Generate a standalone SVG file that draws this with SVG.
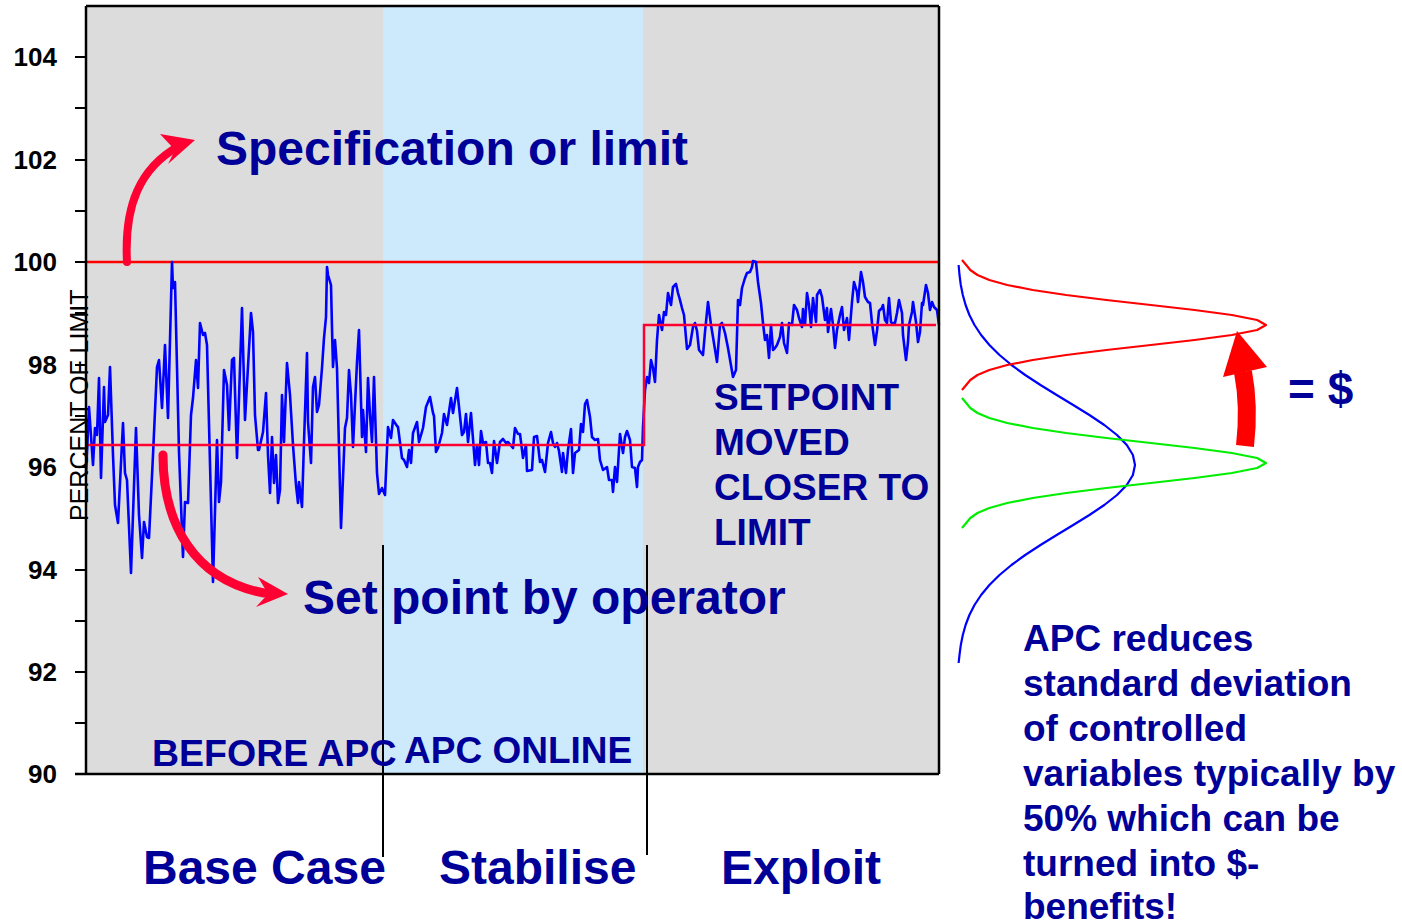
<svg xmlns="http://www.w3.org/2000/svg" width="1402" height="923" viewBox="0 0 1402 923">
<style>
.t{font-family:"Liberation Sans",Arial,sans-serif;font-weight:bold;fill:#000099}
.ax{font-family:"Liberation Sans",Arial,sans-serif;font-weight:bold;font-size:26px;fill:#000;text-anchor:end}
.frame{stroke:#000;stroke-width:2.5;fill:none}
.tick{stroke:#000;stroke-width:2}
.div{stroke:#000;stroke-width:2}
.dist{fill:none;stroke-width:2.2;stroke-linejoin:round}
.arr{fill:none;stroke:#ff0033;stroke-linecap:round}
</style>
<rect width="1402" height="923" fill="#fff"/>
<g id="plot-bg">
<rect x="86" y="6" width="297" height="768" fill="#dcdcdc"/>
<rect x="383" y="6" width="260" height="768" fill="#cdeafc"/>
<rect x="643" y="6" width="296" height="768" fill="#dcdcdc"/>
</g>
<g id="axis">
<line class="tick" x1="75" y1="57" x2="86" y2="57"/>
<line class="tick" x1="75" y1="108" x2="86" y2="108"/>
<line class="tick" x1="75" y1="160" x2="86" y2="160"/>
<line class="tick" x1="75" y1="211" x2="86" y2="211"/>
<line class="tick" x1="75" y1="262" x2="86" y2="262"/>
<line class="tick" x1="75" y1="313" x2="86" y2="313"/>
<line class="tick" x1="75" y1="365" x2="86" y2="365"/>
<line class="tick" x1="75" y1="416" x2="86" y2="416"/>
<line class="tick" x1="75" y1="467" x2="86" y2="467"/>
<line class="tick" x1="75" y1="518" x2="86" y2="518"/>
<line class="tick" x1="75" y1="570" x2="86" y2="570"/>
<line class="tick" x1="75" y1="621" x2="86" y2="621"/>
<line class="tick" x1="75" y1="672" x2="86" y2="672"/>
<line class="tick" x1="75" y1="723" x2="86" y2="723"/>
<line class="tick" x1="75" y1="774" x2="86" y2="774"/>
<text class="ax" x="57" y="66">104</text>
<text class="ax" x="57" y="169">102</text>
<text class="ax" x="57" y="271">100</text>
<text class="ax" x="57" y="374">98</text>
<text class="ax" x="57" y="476">96</text>
<text class="ax" x="57" y="579">94</text>
<text class="ax" x="57" y="681">92</text>
<text class="ax" x="57" y="783">90</text>
</g>
<g id="limit-lines">
<line x1="86" y1="262" x2="939" y2="262" stroke="#ff0000" stroke-width="2.5"/>
</g>
<g id="trace">
<polyline fill="none" stroke="#0000ff" stroke-width="2.6" stroke-linejoin="round" points="86,475 89,407 93,465 95,428 97,435 99,378 101,478 104,387 105,422 108,415 110,367 113,455 115,505 118,523 123,423 125,473 127,480 131,573 136,428 139,515 142,558 144,522 147,537 149,538 153,455 157,367 159,360 162,408 165,345 168,418 172,262 173,288 175,282 179,452 183,557 185,502 188,503 191,415 193,398 196,360 198,388 200,323 203,335 205,333 207,345 213,582 217,440 219,502 221,482 224,370 227,385 229,430 232,360 234,358 237,458 242,308 245,420 251,313 253,332 255,415 258,450 259,450 263,432 266,393 268,455 270,493 272,437 274,483 276,455 278,503 280,490 282,395 284,442 287,363 290,395 293,445 296,485 298,503 299,482 302,507 304,442 307,353 308,422 311,463 313,387 315,377 317,412 319,405 322,368 324,338 326,317 327,267 328,275 331,285 332,328 333,367 335,340 337,368 341,528 345,428 347,418 349,370 351,395 353,447 357,362 359,330 362,437 363,410 366,452 368,378 370,415 372,442 374,377 377,473 379,494 382,488 385,495 388,427 391,438 393,420 397,426 398,427 402,458 404,460 407,467 409,450 411,463 413,433 417,422 419,442 423,428 426,407 430,397 433,413 434,416 436,452 438,448 442,433 444,414 447,425 451,398 453,413 457,388 462,435 464,432 466,414 468,442 471,413 475,465 477,445 479,465 481,431 483,443 486,442 488,463 490,463 492,473 494,441 497,463 500,442 503,439 506,443 508,442 513,448 515,428 518,434 520,434 523,458 526,445 527,471 532,470 534,437 537,436 540,462 542,460 545,472 548,443 551,432 553,443 555,447 557,443 559,451 562,472 563,453 566,473 568,450 571,429 573,473 575,453 579,450 581,424 583,432 585,404 587,400 590,417 592,437 595,440 598,439 600,460 603,470 607,467 609,480 612,480 613,492 615,467 617,482 620,434 623,453 625,437 627,431 630,440 632,467 635,468 637,487 638,467 640,462 642,460 643,427 645,390 647,377 649,383 651,360 653,368 655,382 657,340 659,315 662,330 664,312 666,315 668,293 671,305 673,287 676,284 678,293 680,300 682,308 684,315 687,349 690,345 693,327 695,323 697,331 699,350 703,355 705,332 708,302 711,325 713,337 717,362 720,325 722,323 725,333 728,348 733,377 736,370 738,300 740,305 742,288 745,278 747,273 750,272 752,267 753,261 756,262 758,282 761,303 763,323 765,340 767,335 769,358 771,325 773,350 775,348 777,345 780,337 782,323 784,343 787,353 789,323 792,325 794,305 797,310 799,318 802,327 803,309 805,325 807,293 809,305 811,327 813,298 816,322 817,295 820,290 822,297 825,320 827,308 828,332 831,309 833,325 835,348 837,330 840,315 842,307 844,330 847,318 849,340 852,302 854,282 857,292 858,302 861,272 863,282 865,297 868,302 870,303 872,323 875,345 877,331 879,311 882,308 883,305 885,320 887,323 889,298 891,322 892,323 895,323 897,313 899,300 902,313 903,335 906,360 908,342 909,325 912,312 913,302 916,322 918,342 920,332 922,303 923,305 926,285 928,293 930,310 932,302 934,307 937,310 939,325"/>
</g>
<g id="setpoint-line">
<polyline fill="none" stroke="#ff0033" stroke-width="2.5" points="86,445 644,445 644,325 936,325"/>
</g>
<g id="frame">
<line class="frame" x1="86" y1="6" x2="939" y2="6"/>
<line class="frame" x1="86" y1="6" x2="86" y2="774"/>
<line class="frame" x1="939" y1="6" x2="939" y2="774"/>
<line class="frame" x1="75" y1="774" x2="939" y2="774"/>
</g>
<g id="y-label">
<text transform="translate(88,521) rotate(-90)" font-family="Liberation Sans, Arial, sans-serif" font-size="25" fill="#000">PERCENT OF LIMIT</text>
</g>
<g id="dividers">
<line class="div" x1="383" y1="545" x2="383" y2="857"/>
<line class="div" x1="647" y1="545" x2="647" y2="855"/>
</g>
<g id="region-labels">
<text class="t" x="152" y="766" font-size="37.5">BEFORE APC</text>
<text class="t" x="404" y="763" font-size="37">APC ONLINE</text>
<text class="t" x="714" y="410" font-size="37">SETPOINT</text>
<text class="t" x="714" y="455" font-size="37">MOVED</text>
<text class="t" x="714" y="500" font-size="37">CLOSER TO</text>
<text class="t" x="714" y="545" font-size="37">LIMIT</text>
</g>
<g id="phase-labels">
<text class="t" x="143" y="884" font-size="48">Base Case</text>
<text class="t" x="439" y="884" font-size="48">Stabilise</text>
<text class="t" x="721" y="884" font-size="48">Exploit</text>
</g>
<g id="spec-label"><text class="t" x="216" y="165" font-size="48">Specification or limit</text></g>
<g id="setpoint-label"><text class="t" x="303" y="614" font-size="48">Set point by operator</text></g>
<g id="distributions">
<polyline class="dist" stroke="#0000ff" points="958.6,265 959.5,275 960.8,285 962.8,295 965.6,305 969.4,315 974.5,325 981.1,335 989.4,345 999.5,355 1011.5,365 1025.2,375 1040.5,385 1056.7,395 1073.2,405 1089.4,415 1104.3,425 1117,435 1126.8,445 1132.9,455 1135,465 1132.9,475 1126.8,485 1117,495 1104.3,505 1089.4,515 1073.2,525 1056.7,535 1040.5,545 1025.2,555 1011.5,565 999.5,575 989.4,585 981.1,595 974.5,605 969.4,615 965.6,625 962.8,635 960.8,645 959.5,655 958.6,663"/>
<polyline class="dist" stroke="#ff0000" points="962,260 966.2,265 970.3,270 977.5,275 989.3,280 1007.2,285 1032.7,290 1066.2,295 1106.4,300 1150.8,305 1194.6,310 1231.9,315 1257.1,320 1266,325 1257.1,330 1231.9,335 1194.6,340 1150.8,345 1106.4,350 1066.2,355 1032.7,360 1007.2,365 989.3,370 977.5,375 970.3,380 966.2,385 962,390"/>
<polyline class="dist" stroke="#00ee00" points="962,398 966.2,403 970.3,408 977.5,413 989.3,418 1007.2,423 1032.7,428 1066.2,433 1106.4,438 1150.8,443 1194.6,448 1231.9,453 1257.1,458 1266,463 1257.1,468 1231.9,473 1194.6,478 1150.8,483 1106.4,488 1066.2,493 1032.7,498 1007.2,503 989.3,508 977.5,513 970.3,518 966.2,523 962,528"/>
</g>
<g id="dollar-label"><text class="t" x="1288" y="405" font-size="46">= $</text></g>
<g id="apc-note">
<text class="t" font-size="37" x="1023">
<tspan x="1023" y="651">APC reduces</tspan>
<tspan x="1023" y="696">standard deviation</tspan>
<tspan x="1023" y="741">of controlled</tspan>
<tspan x="1023" y="786">variables typically by</tspan>
<tspan x="1023" y="831">50% which can be</tspan>
<tspan x="1023" y="876">turned into $-</tspan>
<tspan x="1023" y="919">benefits!</tspan>
</text>
</g>
<g id="connectors">
<path class="arr" stroke-width="8" d="M127,262 C124,205 140,168 179,146"/>
<polygon fill="#ff0033" points="195,140 160,134 175,150 168,164"/>
<path class="arr" stroke-width="9" d="M163,455 C163,525 195,580 264,593"/>
<polygon fill="#ff0033" points="288,594 258,577 268,594 256,607"/>
<path fill="none" stroke="#ff0000" stroke-width="18" d="M1245,446 C1248,420 1248,398 1243,372"/>
<polygon fill="#ff0000" points="1237,331 1267,367 1223,377"/>
</g>
</svg>
